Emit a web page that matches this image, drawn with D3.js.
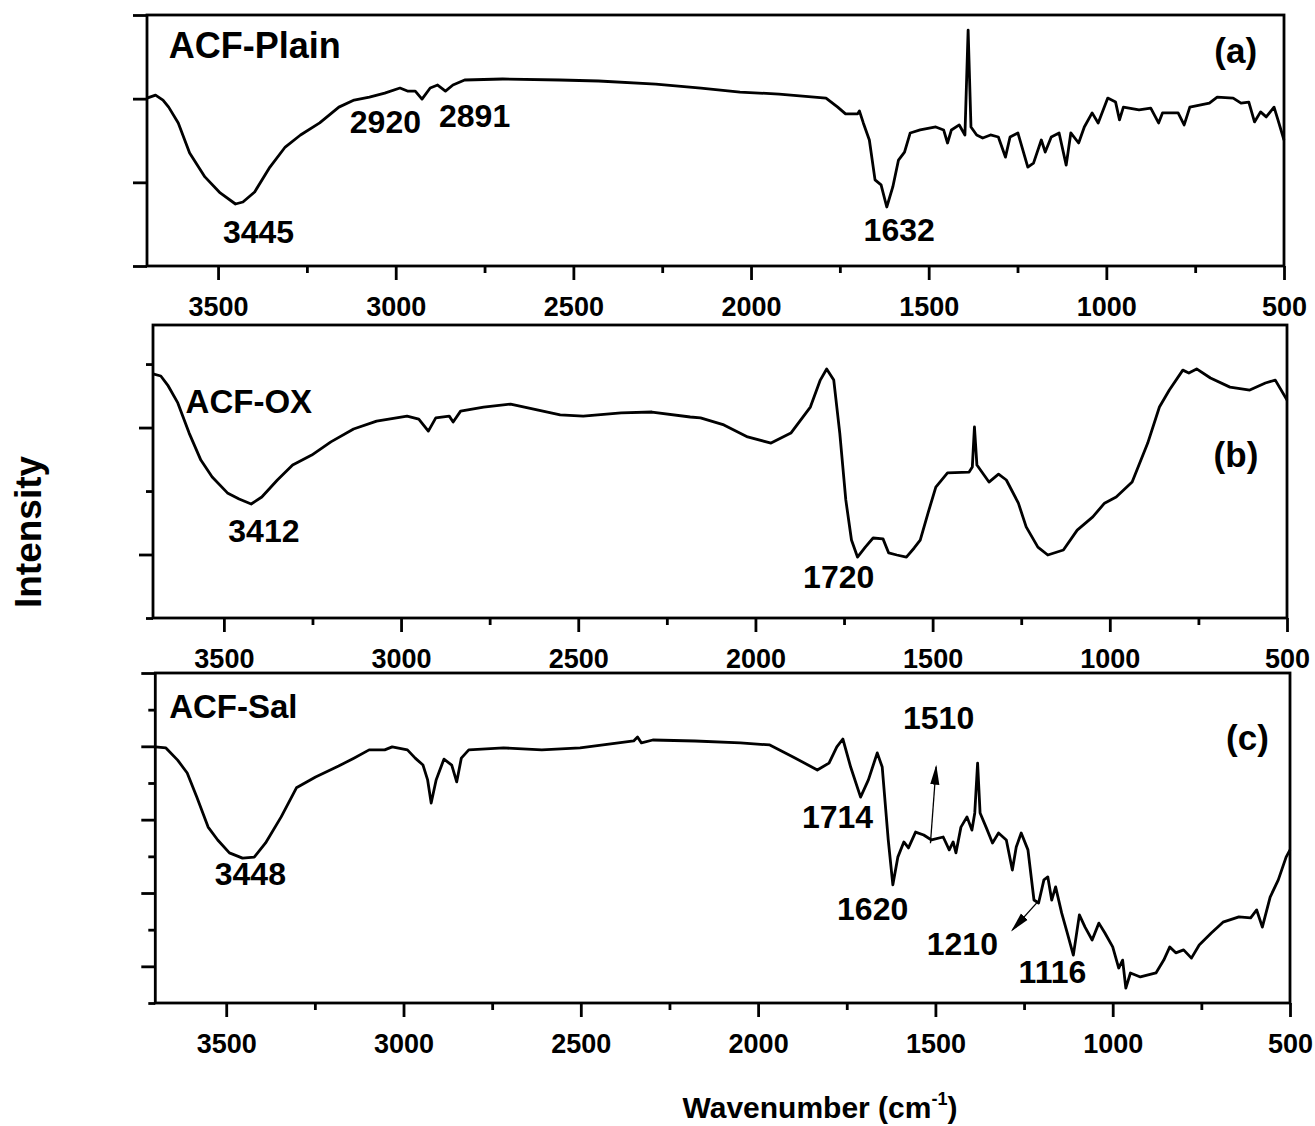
<!DOCTYPE html>
<html><head><meta charset="utf-8">
<script src="https://cdn.jsdelivr.net/npm/d3@7"></script>
<style>
html,body{margin:0;padding:0;background:#fff;}
svg{display:block;font-family:"Liberation Sans",Arial,sans-serif;font-weight:bold;}
</style></head>
<body><svg id="chart" width="1315" height="1126"></svg>
<script>
// ---------- DATA ----------
const xTickMajor = [3500, 3000, 2500, 2000, 1500, 1000, 500];
const xTickMinor = [3250, 2750, 2250, 1750, 1250, 750];
const xDomain = [3700, 500];

// (a) ACF-Plain
const plainWn = [3700,3676,3655,3639,3612,3580,3537,3494,3451,3430,3397,3354,3311,3268,3214,3160,3117,3074,3031,2988,2967,2945,2926,2903,2882,2860,2839,2806,2699,2538,2429,2268,2141,2031,1921,1789,1756,1734,1700,1695,1684,1667,1651,1634,1618,1601,1585,1568,1552,1524,1480,1458,1447,1436,1414,1398,1389,1381,1365,1348,1326,1304,1284,1271,1249,1221,1205,1183,1172,1155,1133,1113,1100,1078,1062,1040,1023,996,974,963,952,908,875,853,842,798,781,765,710,688,643,621,599,583,566,550,528,517,500];
const plainI  = [66.9,68.1,66.1,63.3,57.0,45.0,35.5,29.1,24.7,25.5,29.5,39.4,47.4,52.2,57.0,63.3,66.1,67.3,68.9,70.9,69.7,69.7,66.5,70.9,72.1,69.7,72.1,74.1,74.5,74.1,73.7,72.5,70.9,69.3,68.5,66.9,63.3,60.6,60.6,61.8,57.0,50.2,34.3,32.3,23.5,31.5,42.2,45.4,53.0,54.2,55.4,54.2,49.0,54.2,56.2,52.2,94.0,55.4,52.2,51.0,52.2,51.4,43.4,51.4,53.0,39.4,41.0,50.2,45.4,51.4,53.0,40.2,53.0,49.0,55.4,61.0,57.0,66.9,65.3,58.2,63.3,62.2,62.9,57.0,61.0,61.0,56.2,63.3,64.9,67.3,66.9,64.9,65.3,57.4,61.4,59.4,63.3,58.2,50.2];

// (b) ACF-OX
const oxWn = [3700,3678,3657,3630,3598,3565,3533,3490,3457,3423,3393,3349,3306,3252,3198,3134,3069,2983,2950,2923,2902,2864,2853,2832,2767,2691,2616,2551,2486,2379,2292,2184,2155,2089,2022,1956,1900,1845,1817,1799,1779,1762,1745,1729,1712,1690,1668,1640,1624,1601,1574,1552,1535,1513,1491,1458,1397,1388,1382,1375,1341,1314,1292,1258,1236,1203,1175,1131,1092,1048,1015,982,937,893,860,832,794,777,755,716,661,605,561,533,500];
const oxI  = [83.3,82.6,79.2,73.4,63.1,53.9,48.1,42.7,40.6,38.9,41.3,47.1,52.2,55.6,60.1,64.5,67.2,68.9,67.9,63.8,68.3,68.9,66.9,70.6,72.0,73.0,71.0,69.3,68.9,70.0,70.3,68.6,68.3,65.9,61.8,59.7,63.1,72.0,81.2,85.0,81.2,63.1,40.3,26.6,20.8,24.2,27.3,27.0,22.2,21.5,20.8,23.9,26.6,35.8,44.7,49.5,49.8,51.5,65.2,52.2,46.4,49.1,47.1,39.2,31.1,24.2,21.5,23.2,30.0,34.5,39.2,41.3,46.4,59.7,72.0,77.8,84.6,83.6,85.0,81.9,78.8,77.8,80.2,81.2,74.4];

// (c) ACF-Sal
const salWn = [3700,3670,3637,3610,3583,3551,3524,3491,3454,3421,3389,3345,3302,3248,3183,3140,3097,3053,3032,2989,2967,2945,2932,2922,2908,2886,2864,2850,2837,2816,2718,2610,2502,2394,2351,2340,2329,2297,2178,2050,1967,1900,1833,1800,1778,1761,1739,1711,1689,1664,1650,1633,1620,1606,1589,1576,1556,1533,1511,1478,1461,1450,1442,1428,1411,1397,1389,1381,1374,1356,1339,1322,1300,1283,1272,1258,1239,1222,1209,1194,1183,1172,1161,1144,1128,1111,1094,1078,1058,1039,1022,1000,983,972,963,950,922,878,856,839,822,800,778,756,722,689,644,611,594,578,556,533,511,500];
const salI  = [77.6,77.3,73.6,69.7,62.4,53.3,49.4,45.5,43.9,44.2,48.5,56.4,65.2,68.5,71.8,74.2,76.7,76.7,77.6,76.7,74.2,72.1,67.6,60.6,67.6,73.9,72.1,67.0,74.2,76.7,77.3,76.7,77.3,78.8,79.4,80.6,78.8,79.7,79.4,78.8,78.2,74.5,70.6,72.7,77.6,80.0,71.5,62.4,67.6,75.8,71.5,49.4,35.8,44.2,48.8,47.0,51.8,50.9,49.4,50.3,46.4,48.8,45.5,53.3,56.4,52.4,57.6,72.7,57.6,53.0,48.5,51.5,49.4,40.3,47.3,51.5,46.4,31.2,30.3,37.3,38.2,31.2,35.2,27.3,21.2,14.5,26.7,23.0,19.1,24.2,21.2,17.0,10.6,13.0,4.5,9.1,7.9,9.1,13.0,17.0,15.2,16.1,13.6,17.6,21.2,24.5,26.1,25.8,28.2,23.0,32.1,37.3,44.2,46.4];

// y-axis tick values (no labels) per panel
const aYMajor = [0, 33.33, 66.67, 100];
const aYMinor = [];
const bYMajor = [21.67, 65.0];
const bYMinor = [0, 43.33, 86.67];
const cYMajor = [11.11, 33.33, 55.56, 77.78, 100];
const cYMinor = [0, 22.22, 44.44, 66.67, 88.89];

// annotations [text, wavenumber, intensity, anchor]
const aNotes = [["ACF-Plain",3639,82.7,"start"],["3445",3386,9.2,"middle"],["2920",3029,53.1,"middle"],["2891",2778,55.5,"middle"],["1632",1583,10.1,"middle"],["(a)",636,80.9,"middle"]];
const bNotes = [["ACF-OX",3608,69.9,"start"],["3412",3387,26.0,"middle"],["1720",1765,10.1,"middle"],["(b)",644,51.6,"middle"]];
const cNotes = [["ACF-Sal",3661,86.3,"start"],["3448",3432,35.8,"middle"],["1510",1491,82.9,"middle"],["(c)",620,76.7,"middle"],["1714",1776,52.9,"middle"],["1620",1677,25.2,"middle"],["1210",1424,14.5,"middle"],["1116",1170,6.0,"middle"]];
// arrows [fromWn, fromI, toWn, toI]
const cArrows = [[1514,48.4,1498,71.6],[1211,30.7,1283,22.1]];

// ---------- LAYOUT ----------
const panels = [
  {wn: plainWn, I: plainI, left:147, right:1284, top:15, bottom:266, yMaj:aYMajor, yMin:aYMinor, notes:aNotes, arrows:[], nameSize:36},
  {wn: oxWn, I: oxI, left:153, right:1287, top:325, bottom:618, yMaj:bYMajor, yMin:bYMinor, notes:bNotes, arrows:[], nameSize:33},
  {wn: salWn, I: salI, left:155.3, right:1290, top:673, bottom:1003, yMaj:cYMajor, yMin:cYMinor, notes:cNotes, arrows:cArrows, nameSize:33}
];

const svg = d3.select("#chart");
const defs = svg.append("defs");
defs.append("marker").attr("id","ah").attr("viewBox","0 0 10 10").attr("refX",9).attr("refY",5)
  .attr("markerWidth",20).attr("markerHeight",20).attr("markerUnits","userSpaceOnUse").attr("orient","auto")
  .append("path").attr("d","M0,2.7 L10,5 L0,7.3 z").attr("fill","#000");

const SW = 2.8;

panels.forEach((p, i) => {
  const x = d3.scaleLinear().domain(xDomain).range([p.left, p.right]);
  const y = d3.scaleLinear().domain([0, 100]).range([p.bottom, p.top]);
  const g = svg.append("g");

  // bottom axis major
  const gx = g.append("g").attr("transform", `translate(0,${p.bottom})`)
    .call(d3.axisBottom(x).tickValues(xTickMajor).tickSize(14).tickSizeOuter(0).tickFormat(d3.format("d")));
  gx.select(".domain").remove();
  gx.selectAll("line").attr("stroke","#000").attr("stroke-width",SW);
  gx.selectAll("text").attr("y",50).attr("dy",null).attr("font-size",27).attr("font-weight","bold")
    .attr("font-family","Liberation Sans, Arial, sans-serif").attr("fill","#000");
  const gxm = g.append("g").attr("transform", `translate(0,${p.bottom})`)
    .call(d3.axisBottom(x).tickValues(xTickMinor).tickSize(7).tickSizeOuter(0).tickFormat(""));
  gxm.select(".domain").remove();
  gxm.selectAll("line").attr("stroke","#000").attr("stroke-width",SW);

  // left axis
  const gy = g.append("g").attr("transform", `translate(${p.left},0)`)
    .call(d3.axisLeft(y).tickValues(p.yMaj).tickSize(14).tickSizeOuter(0).tickFormat(""));
  gy.select(".domain").remove();
  gy.selectAll("line").attr("stroke","#000").attr("stroke-width",SW);
  const gym = g.append("g").attr("transform", `translate(${p.left},0)`)
    .call(d3.axisLeft(y).tickValues(p.yMin).tickSize(7).tickSizeOuter(0).tickFormat(""));
  gym.select(".domain").remove();
  gym.selectAll("line").attr("stroke","#000").attr("stroke-width",SW);

  // frame
  g.append("rect").attr("x",p.left).attr("y",p.top).attr("width",p.right-p.left).attr("height",p.bottom-p.top)
    .attr("fill","none").attr("stroke","#000").attr("stroke-width",SW);

  // spectrum
  const pts = p.wn.map((w,k)=>[w,p.I[k]]);
  g.append("path").datum(pts)
    .attr("d", d3.line().x(d=>x(d[0])).y(d=>y(d[1])))
    .attr("fill","none").attr("stroke","#000").attr("stroke-width",2.8).attr("stroke-linejoin","round");

  // annotations
  p.notes.forEach((n,k)=>{
    const isName = n[0].startsWith("ACF");
    const isTag = n[0].startsWith("(");
    g.append("text").attr("x",x(n[1])).attr("y",y(n[2])).attr("text-anchor",n[3])
      .attr("font-size", isName ? p.nameSize : (isTag ? 35 : 32)).attr("font-weight","bold").attr("fill","#000")
      .text(n[0]);
  });
  p.arrows.forEach(a=>{
    g.append("line").attr("x1",x(a[0])).attr("y1",y(a[1])).attr("x2",x(a[2])).attr("y2",y(a[3]))
      .attr("stroke","#000").attr("stroke-width",1.3).attr("marker-end","url(#ah)");
  });
});

// axis titles
const t = svg.append("text").attr("x",820).attr("y",1118).attr("text-anchor","middle")
  .attr("font-size",30).attr("font-weight","bold").attr("fill","#000");
t.append("tspan").text("Wavenumber (cm");
t.append("tspan").attr("font-size",18).attr("dy",-13).text("-1");
t.append("tspan").attr("dy",13).text(")");

svg.append("text").attr("transform","translate(41,532) rotate(-90)").attr("text-anchor","middle")
  .attr("font-size",37).attr("font-weight","bold").attr("fill","#000").text("Intensity");
</script>
</body></html>
